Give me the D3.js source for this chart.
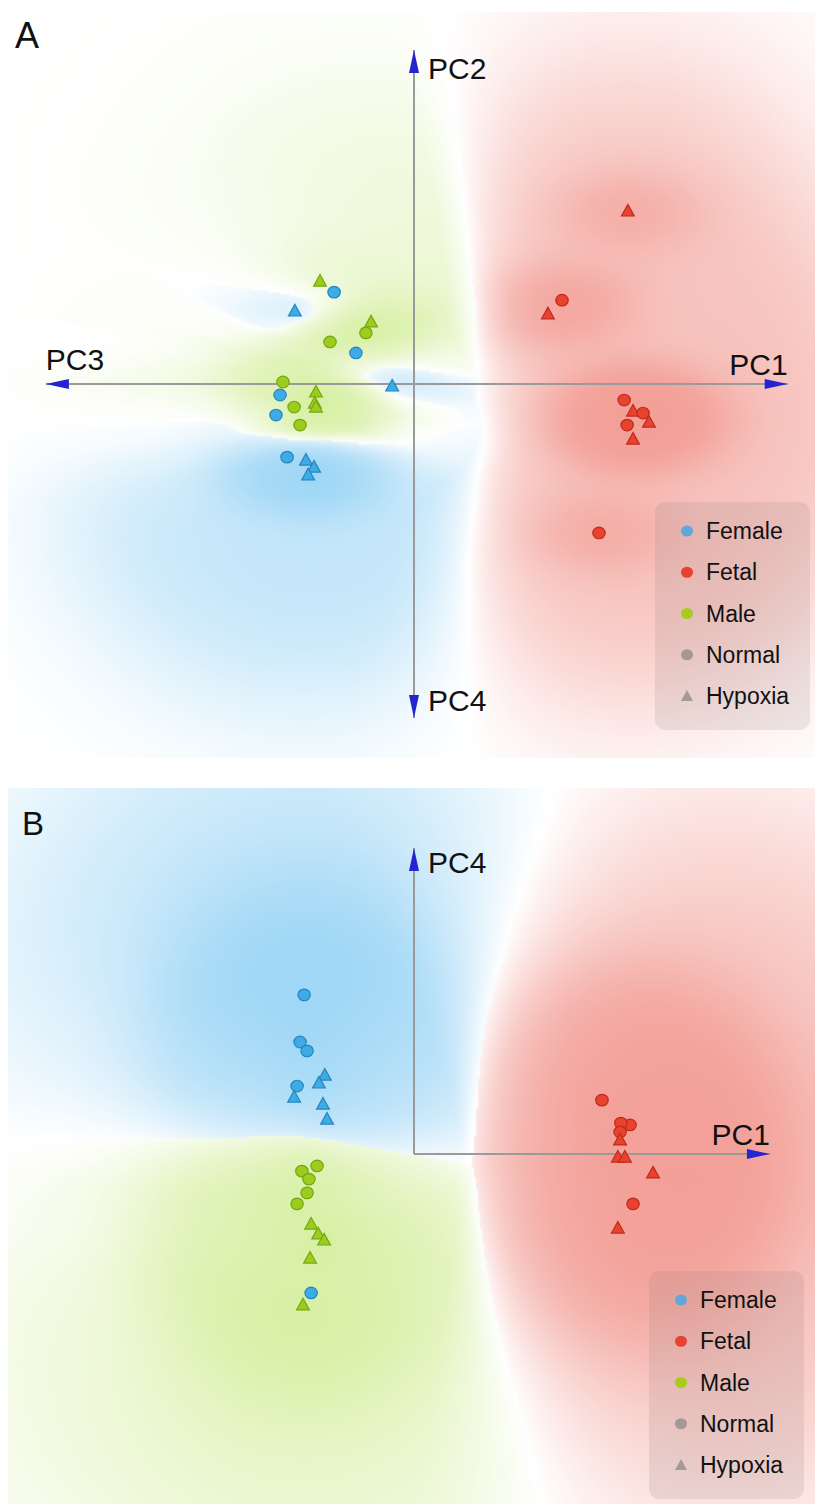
<!DOCTYPE html>
<html>
<head>
<meta charset="utf-8">
<script src="https://cdn.jsdelivr.net/npm/d3@7"></script>
<style>
  body { margin: 0; background: #fff; }
  svg { display: block; font-family: "Liberation Sans", Arial, sans-serif; }
</style>
</head>
<body>
<div id="chart"></div>
<script>
// PCA scores (arbitrary units, axis arrows at +/-100)
// each row: [horizontal score, vertical score, condition]
const aFemale = [
  [-21.6, 27.5, "Normal"], [-32.2, 21.9, "Hypoxia"], [-15.7, 9.3, "Normal"], [-5.9, -0.6, "Hypoxia"],
  [-36.2, -3.3, "Normal"], [-37.3, -9.3, "Normal"], [-34.3, -21.9, "Normal"], [-29.2, -22.8, "Hypoxia"],
  [-27.0, -24.9, "Hypoxia"], [-28.6, -27.2, "Hypoxia"]
];
const aMale = [
  [-25.4, 30.8, "Hypoxia"], [-11.6, 18.6, "Hypoxia"], [-13.0, 15.3, "Normal"], [-22.7, 12.6, "Normal"],
  [-35.4, 0.6, "Normal"], [-26.5, -2.4, "Hypoxia"], [-26.8, -5.7, "Hypoxia"], [-26.5, -6.9, "Hypoxia"],
  [-32.4, -6.9, "Normal"], [-30.8, -12.3, "Normal"]
];
const aFetal = [
  [57.8, 51.8, "Hypoxia"], [40.0, 25.1, "Normal"], [36.2, 21.0, "Hypoxia"], [56.8, -4.8, "Normal"],
  [59.2, -8.1, "Hypoxia"], [61.9, -8.7, "Normal"], [63.5, -11.4, "Hypoxia"], [57.6, -12.3, "Normal"],
  [59.2, -16.5, "Hypoxia"], [50.0, -44.6, "Normal"]
];
const bFemale = [
  [-29.7, 52.0, "Normal"], [-30.8, 36.6, "Normal"], [-28.9, 33.7, "Normal"], [-24.1, 25.8, "Hypoxia"],
  [-25.7, 23.2, "Hypoxia"], [-31.6, 22.2, "Normal"], [-32.4, 18.6, "Hypoxia"], [-24.6, 16.3, "Hypoxia"],
  [-23.5, 11.4, "Hypoxia"], [-27.8, -45.4, "Normal"]
];
const bMale = [
  [-26.2, -3.9, "Normal"], [-30.3, -5.6, "Normal"], [-28.4, -8.2, "Normal"], [-28.9, -12.7, "Normal"],
  [-31.6, -16.3, "Normal"], [-27.8, -22.9, "Hypoxia"], [-25.9, -26.1, "Hypoxia"], [-24.3, -28.1, "Hypoxia"],
  [-28.1, -34.0, "Hypoxia"], [-30.0, -49.3, "Hypoxia"]
];
const bFetal = [
  [50.8, 17.6, "Normal"], [58.4, 9.5, "Normal"], [55.9, 10.1, "Normal"], [55.7, 7.2, "Normal"],
  [55.7, 4.6, "Hypoxia"], [55.1, -1.0, "Hypoxia"], [57.0, -1.0, "Hypoxia"], [64.6, -6.2, "Hypoxia"],
  [59.2, -16.3, "Normal"], [55.1, -24.2, "Hypoxia"]
];

const groups = ["Female", "Fetal", "Male"];
const legendItems = ["Female", "Fetal", "Male", "Normal", "Hypoxia"];
const axesA = ["PC1", "PC2", "PC3", "PC4"];
const axesB = ["PC1", "PC4"];

const W = 815, H = 1506;

// colours
const fill = { Female: "#3eaae6", Fetal: "#e8432f", Male: "#9ccc1e" };
const stroke = { Female: "#2586bf", Fetal: "#bf2a1a", Male: "#76a610" };
const legendFill = { Female: "#62a6da", Fetal: "#e8412f", Male: "#a9cc1c", Normal: "#a39797", Hypoxia: "#a39a9a" };
const fieldRGB = { Female: [100, 190, 240], Fetal: [236, 110, 98], Male: [185, 228, 95] };

const svg = d3.select("#chart").append("svg").attr("width", W).attr("height", H);

// scales
const xA = d3.scaleLinear().domain([-100, 100]).range([44, 784]);
const yA = d3.scaleLinear().domain([-100, 100]).range([718, 50]);
const xB = d3.scaleLinear().domain([-100, 100]).range([44, 784]);
const yB = d3.scaleLinear().domain([-100, 100]).range([1460, 848]);

const panels = [
  {
    name: "A", x0: 8, y0: 12, w: 807, h: 745, xs: xA, ys: yA,
    data: { Female: aFemale, Fetal: aFetal, Male: aMale },
    k: 1.8, sn: 46, sb: 120, a0: 0.42, a1: 0.24, lambda: 55, bias: [10, 12, 0],
    legend: { x: 655, y: 502, w: 155, h: 228 }
  },
  {
    name: "B", x0: 8, y0: 788, w: 807, h: 715, xs: xB, ys: yB,
    data: { Female: bFemale, Fetal: bFetal, Male: bMale },
    k: 1.0, sn: 80, sb: 165, a0: 0.42, a1: 0.26, lambda: 110, bias: [0, 15, 0],
    legend: { x: 649, y: 1271, w: 155, h: 228 }
  }
];

function knnMean(arr, n) {
  arr.sort((a, b) => a - b);
  let s = 0;
  for (let i = 0; i < n; i++) s += arr[i];
  return s / n;
}

// shaded class field behind the points (k-nearest group map, faded with distance)
function drawField(p) {
  const step = 2;
  const cw = Math.ceil(p.w / step), ch = Math.ceil(p.h / step);
  const canvas = document.createElement("canvas");
  canvas.width = cw; canvas.height = ch;
  const ctx = canvas.getContext("2d");
  const img = ctx.createImageData(cw, ch);
  const pts = [];
  groups.forEach((g, gi) => p.data[g].forEach(d => pts.push({ gi, px: p.xs(d[0]), py: p.ys(d[1]) })));
  const inn = 1 / (2 * p.sn * p.sn), inb = 1 / (2 * p.sb * p.sb);
  const FEM = 0, FET = 1, MAL = 2;
  for (let j = 0; j < ch; j++) {
    const py = p.y0 + (j + 0.5) * step;
    for (let i = 0; i < cw; i++) {
      const px = p.x0 + (i + 0.5) * step;
      const iso = [[], [], []], ani = [[], [], []], dn = [0, 0, 0], db = [0, 0, 0];
      for (const q of pts) {
        const dx = px - q.px, dy = py - q.py, dya = dy * p.k;
        const d2 = dx * dx + dy * dy, d2a = dx * dx + dya * dya;
        iso[q.gi].push(Math.sqrt(d2));
        ani[q.gi].push(Math.sqrt(d2a));
        dn[q.gi] += Math.exp(-d2a * inn);
        db[q.gi] += Math.exp(-d2 * inb);
      }
      const iF = knnMean(iso[FEM], 3) + p.bias[FEM], iT = knnMean(iso[FET], 3) + p.bias[FET];
      const iM = knnMean(iso[MAL], 3) + p.bias[MAL];
      const aF = knnMean(ani[FEM], 3) + p.bias[FEM], aM = knnMean(ani[MAL], 3) + p.bias[MAL];
      const restIso = Math.min(iF, iM);
      let win, margin;
      if (iT < restIso) {
        win = FET; margin = restIso - iT;
      } else {
        win = aF < aM ? FEM : MAL;
        margin = Math.min(iT - restIso, Math.abs(aF - aM) * 1.5);
      }
      const conf = 1 - Math.exp(-margin / p.lambda);
      let other = 0;
      for (let c = 0; c < 3; c++) if (c !== win) other = Math.max(other, dn[c]);
      const near = Math.max(0, 1 - Math.exp(-(dn[win] - 0.7 * other)));
      let a = conf * p.a0 * (1 - Math.exp(-db[win])) + p.a1 * near;
      a = Math.min(0.7, a);
      const rgb = fieldRGB[groups[win]];
      const o = (j * cw + i) * 4;
      img.data[o] = 255 - a * (255 - rgb[0]);
      img.data[o + 1] = 255 - a * (255 - rgb[1]);
      img.data[o + 2] = 255 - a * (255 - rgb[2]);
      img.data[o + 3] = 255;
    }
  }
  ctx.putImageData(img, 0, 0);
  svg.append("image")
    .attr("x", p.x0).attr("y", p.y0)
    .attr("width", cw * step).attr("height", ch * step)
    .attr("preserveAspectRatio", "none")
    .attr("href", canvas.toDataURL());
}

const tri = "M0,-6.6L6.4,5L-6.4,5Z";

function drawAxes(p, names) {
  const g = svg.append("g");
  const ox = p.xs(0), oy = p.ys(0);
  const ends = {
    PC1: [p.xs(p.name === "A" ? 101 : 96.2), oy],
    PC2: [ox, p.ys(100)],
    PC3: [p.xs(-99.5), oy],
    PC4: [ox, p.name === "A" ? p.ys(-100) : p.ys(100)]
  };
  names.forEach(n => {
    const [ex, ey] = ends[n];
    g.append("line").attr("x1", ox).attr("y1", oy).attr("x2", ex).attr("y2", ey)
      .attr("stroke", "#9a9a9a").attr("stroke-width", 2);
  });
  names.forEach(n => {
    const [ex, ey] = ends[n];
    const ang = Math.atan2(ey - oy, ex - ox) * 180 / Math.PI;
    g.append("path").attr("d", "M0,0L-23,-5L-23,5Z")
      .attr("transform", `translate(${ex},${ey}) rotate(${ang})`)
      .attr("fill", "#2424d0");
  });
  const lab = g.append("g").attr("font-size", 30).attr("fill", "#111");
  names.forEach(n => {
    const [ex, ey] = ends[n];
    let t;
    if (n === "PC1") t = lab.append("text").attr("x", ex).attr("y", ey - 9).attr("text-anchor", "end");
    else if (n === "PC3") t = lab.append("text").attr("x", ex).attr("y", ey - 14);
    else if (n === "PC2") t = lab.append("text").attr("x", ex + 14).attr("y", ey + 29);
    else if (p.name === "B") t = lab.append("text").attr("x", ex + 14).attr("y", ey + 25);
    else t = lab.append("text").attr("x", ex + 14).attr("y", ey - 7);
    t.text(n);
  });
}

function drawPoints(p) {
  const g = svg.append("g");
  groups.forEach(grp => {
    p.data[grp].forEach(d => {
      const cx = p.xs(d[0]), cy = p.ys(d[1]);
      if (d[2] === "Hypoxia") {
        g.append("path").attr("d", tri).attr("transform", `translate(${cx},${cy})`)
          .attr("fill", fill[grp]).attr("stroke", stroke[grp]).attr("stroke-width", 1.2);
      } else {
        g.append("ellipse").attr("cx", cx).attr("cy", cy).attr("rx", 6.2).attr("ry", 5.8)
          .attr("fill", fill[grp]).attr("stroke", stroke[grp]).attr("stroke-width", 1.2);
      }
    });
  });
}

function drawLegend(p) {
  const L = p.legend;
  const g = svg.append("g");
  g.append("rect").attr("x", L.x).attr("y", L.y).attr("width", L.w).attr("height", L.h)
    .attr("rx", 10).attr("fill", "#8c7c7c").attr("fill-opacity", 0.16);
  const row = d3.scalePoint().domain(legendItems).range([L.y + 29, L.y + 194]);
  legendItems.forEach(item => {
    const y = row(item);
    if (item === "Hypoxia") {
      g.append("path").attr("d", "M0,-6L6,5L-6,5Z").attr("transform", `translate(${L.x + 32},${y})`)
        .attr("fill", legendFill[item]);
    } else {
      g.append("ellipse").attr("cx", L.x + 32).attr("cy", y).attr("rx", 6).attr("ry", 5.6)
        .attr("fill", legendFill[item]);
    }
    g.append("text").attr("x", L.x + 51).attr("y", y + 8).attr("font-size", 23).attr("fill", "#111")
      .text(item);
  });
}

panels.forEach(p => drawField(p));

// panel letters
svg.append("text").attr("x", 15).attr("y", 48).attr("font-size", 36).attr("fill", "#111").text("A");
svg.append("text").attr("x", 22).attr("y", 835).attr("font-size", 33).attr("fill", "#111").text("B");

drawAxes(panels[0], axesA);
drawAxes(panels[1], axesB);
panels.forEach(p => { drawPoints(p); drawLegend(p); });
</script>
</body>
</html>
